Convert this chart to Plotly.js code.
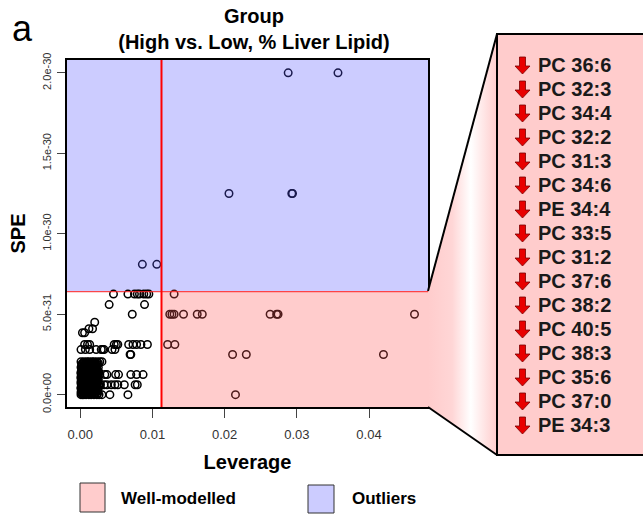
<!DOCTYPE html>
<html><head><meta charset="utf-8">
<script src="https://cdn.plot.ly/plotly-3.0.1.min.js"></script>
<style>html,body{margin:0;padding:0;background:#fff;} #chart{width:643px;height:517px;}</style>
</head><body><div id="chart"></div>
<script>
// ---- data (SPE in units of 1e-31) ----
const leverage = [
  0.0288, 0.0357,
  0.0206, 0.0293, 0.0294,
  0.0086, 0.0106,
  0.0046, 0.0066, 0.0075, 0.0079, 0.0082, 0.0088, 0.0092, 0.0095, 0.0130,
  0.0040, 0.0089,
  0.0072, 0.0124, 0.0127, 0.0130, 0.0143, 0.0162, 0.0169, 0.0263, 0.0272, 0.0274, 0.0463,
  0.0020,
  0.0012, 0.0017,
  0.0003, 0.0006,
  0.0006, 0.0010, 0.0013, 0.0047, 0.0050, 0.0052, 0.0067, 0.0073, 0.0078, 0.0084, 0.0093, 0.0121, 0.0131,
  0.0001, 0.0007, 0.0013, 0.0022, 0.0029, 0.0031, 0.0033, 0.0044, 0.0048,
  0.0069, 0.0070, 0.0211, 0.0230, 0.0420,
  0.0001, 0.0005, 0.0009, 0.0012, 0.0016, 0.0019, 0.0023, 0.0027, 0.0030,
  0.0002, 0.0006, 0.0010, 0.0015, 0.0019, 0.0024,
  0.0001, 0.0004, 0.0008, 0.0013, 0.0017, 0.0021, 0.0025,
  0.0002, 0.0005, 0.0009, 0.0012, 0.0016, 0.0020, 0.0023,
  0.0001, 0.0003, 0.0007, 0.0011, 0.0014, 0.0018, 0.0022, 0.0026,
  0.0002, 0.0004, 0.0006, 0.0009, 0.0013, 0.0017, 0.0021, 0.0024, 0.0027, 0.0034, 0.0037, 0.0049, 0.0053, 0.0070, 0.0078, 0.0087,
  0.0001, 0.0005, 0.0008, 0.0012, 0.0015, 0.0019, 0.0023,
  0.0002, 0.0004, 0.0007, 0.0010, 0.0014, 0.0018, 0.0022, 0.0025,
  0.0001, 0.0003, 0.0006, 0.0009, 0.0013, 0.0016, 0.0020, 0.0024,
  0.0002, 0.0005, 0.0008, 0.0011, 0.0015, 0.0019, 0.0022, 0.0026, 0.0028, 0.0033, 0.0037, 0.0043, 0.0048, 0.0052, 0.0061, 0.0076, 0.0079,
  0.0001, 0.0004, 0.0007, 0.0010, 0.0013, 0.0017, 0.0021,
  0.0002, 0.0003, 0.0006, 0.0009, 0.0012, 0.0016, 0.0020, 0.0024,
  0.0001, 0.0004, 0.0008, 0.0011, 0.0014, 0.0018, 0.0022,
  0.0001, 0.0003, 0.0005, 0.0008, 0.0012, 0.0015, 0.0019, 0.0023, 0.0026, 0.0030, 0.0041, 0.0066, 0.0215,
  0.0003, 0.0007, 0.0012, 0.0017, 0.0021, 0.0025,
  0.0002, 0.0006, 0.0011, 0.0015, 0.0019, 0.0023,
  0.0003, 0.0007, 0.0011, 0.0014, 0.0018, 0.0022,
  0.0002, 0.0005, 0.0009, 0.0013, 0.0016, 0.0020, 0.0024,
  0.0001, 0.0005, 0.0008, 0.0011, 0.0015, 0.0019, 0.0023,
  0.0003, 0.0006, 0.0010, 0.0013, 0.0017, 0.0021, 0.0025,
  0.0001, 0.0005, 0.0009, 0.0012, 0.0016, 0.0020, 0.0024,
  0.0002, 0.0005, 0.0008, 0.0011, 0.0015, 0.0018, 0.0022,
  0.0001, 0.0004, 0.0007, 0.0010, 0.0013, 0.0017, 0.0021, 0.0024,
  0.0003, 0.0006, 0.0009, 0.0012, 0.0016, 0.0019, 0.0023,
  0.0001, 0.0005, 0.0008, 0.0011, 0.0014, 0.0018, 0.0022, 0.0025,
  0.0003, 0.0006, 0.0010, 0.0013, 0.0016, 0.0020, 0.0024,
  0.0002, 0.0006, 0.0009, 0.0013, 0.0017, 0.0021, 0.0024
];
const spe = [
  20, 20,
  12.5, 12.5, 12.5,
  8.1, 8.1,
  6.25, 6.25, 6.25, 6.25, 6.25, 6.25, 6.25, 6.25, 6.25,
  5.6, 5.6,
  5.0, 5.0, 5.0, 5.0, 5.0, 5.0, 5.0, 5.0, 5.0, 5.0, 5.0,
  4.5,
  4.1, 4.1,
  3.85, 3.85,
  3.12, 3.12, 3.12, 3.12, 3.12, 3.12, 3.12, 3.12, 3.12, 3.12, 3.12, 3.12, 3.12,
  2.8, 2.8, 2.8, 2.8, 2.8, 2.8, 2.8, 2.8, 2.8,
  2.5, 2.5, 2.5, 2.5, 2.5,
  2.05, 2.05, 2.05, 2.05, 2.05, 2.05, 2.05, 2.05, 2.05,
  1.875, 1.875, 1.875, 1.875, 1.875, 1.875,
  1.7, 1.7, 1.7, 1.7, 1.7, 1.7, 1.7,
  1.55, 1.55, 1.55, 1.55, 1.55, 1.55, 1.55,
  1.4, 1.4, 1.4, 1.4, 1.4, 1.4, 1.4, 1.4,
  1.25, 1.25, 1.25, 1.25, 1.25, 1.25, 1.25, 1.25, 1.25, 1.25, 1.25, 1.25, 1.25, 1.25, 1.25, 1.25,
  1.1, 1.1, 1.1, 1.1, 1.1, 1.1, 1.1,
  0.95, 0.95, 0.95, 0.95, 0.95, 0.95, 0.95, 0.95,
  0.8, 0.8, 0.8, 0.8, 0.8, 0.8, 0.8, 0.8,
  0.62, 0.62, 0.62, 0.62, 0.62, 0.62, 0.62, 0.62, 0.62, 0.62, 0.62, 0.62, 0.62, 0.62, 0.62, 0.62, 0.62,
  0.45, 0.45, 0.45, 0.45, 0.45, 0.45, 0.45,
  0.3, 0.3, 0.3, 0.3, 0.3, 0.3, 0.3, 0.3,
  0.15, 0.15, 0.15, 0.15, 0.15, 0.15, 0.15,
  0, 0, 0, 0, 0, 0, 0, 0, 0, 0, 0, 0, 0,
  1.95, 1.95, 1.95, 1.95, 1.95, 1.95,
  1.8, 1.8, 1.8, 1.8, 1.8, 1.8,
  1.62, 1.62, 1.62, 1.62, 1.62, 1.62,
  1.48, 1.48, 1.48, 1.48, 1.48, 1.48, 1.48,
  1.32, 1.32, 1.32, 1.32, 1.32, 1.32, 1.32,
  1.18, 1.18, 1.18, 1.18, 1.18, 1.18, 1.18,
  1.02, 1.02, 1.02, 1.02, 1.02, 1.02, 1.02,
  0.88, 0.88, 0.88, 0.88, 0.88, 0.88, 0.88,
  0.7, 0.7, 0.7, 0.7, 0.7, 0.7, 0.7, 0.7,
  0.53, 0.53, 0.53, 0.53, 0.53, 0.53, 0.53,
  0.38, 0.38, 0.38, 0.38, 0.38, 0.38, 0.38, 0.38,
  0.22, 0.22, 0.22, 0.22, 0.22, 0.22, 0.22,
  0.07, 0.07, 0.07, 0.07, 0.07, 0.07, 0.07
];
const leverageLimit = 0.01125;
const speLimit = 6.41;
const xTickVals = [0, 0.01, 0.02, 0.03, 0.04];
const xTickText = ["0.00", "0.01", "0.02", "0.03", "0.04"];
const yTickVals = [0, 5, 10, 15, 20];
const yTickText = ["0.0e+00", "5.0e-31", "1.0e-30", "1.5e-30", "2.0e-30"];
const lipids = ["PC 36:6", "PC 32:3", "PC 34:4", "PC 32:2", "PC 31:3", "PC 34:6", "PE 34:4", "PC 33:5",
                "PC 31:2", "PC 37:6", "PC 38:2", "PC 40:5", "PC 38:3", "PC 35:6", "PC 37:0", "PE 34:3"];
const legendLabels = ["Well-modelled", "Outliers"];
const chartTitle = "Group<br>(High vs. Low, % Liver Lipid)";

// ---- geometry helpers (pixel -> paper) ----
const L = 67, R = 428, T = 60, B = 407;
function px(x) { return (x - L) / (R - L); }
function py(y) { return (B - y) / (B - T); }
const FONT = "Liberation Sans, Arial, sans-serif";
const PINK = "#ffcccc", BLUE = "#ccccff";

const shapes = [
  {type: "rect", xref: "x", yref: "y", x0: -0.01, x1: 0.1, y0: speLimit, y1: 30,
   fillcolor: BLUE, line: {width: 0}, layer: "between"},
  {type: "rect", xref: "x", yref: "y", x0: leverageLimit, x1: 0.1, y0: -5, y1: speLimit,
   fillcolor: PINK, line: {width: 0}, layer: "between"},
  {type: "line", xref: "x", yref: "y", x0: -0.01, x1: 0.1, y0: speLimit, y1: speLimit,
   line: {color: "rgba(255,30,30,0.8)", width: 1.3}, layer: "above"},
  {type: "line", xref: "x", yref: "y", x0: leverageLimit, x1: leverageLimit, y0: -5, y1: 30,
   line: {color: "#ff0000", width: 2}, layer: "above"},
  // zoom connector
  {type: "line", xref: "paper", yref: "paper", x0: px(428), y0: py(291), x1: px(497), y1: py(34),
   line: {color: "#000", width: 2}},
  {type: "line", xref: "paper", yref: "paper", x0: px(428), y0: py(407), x1: px(497), y1: py(455),
   line: {color: "#000", width: 2}},
  // side panel
  {type: "rect", xref: "paper", yref: "paper", x0: px(497), x1: px(646), y0: py(455), y1: py(34),
   fillcolor: PINK, line: {color: "#000", width: 2}},
  // legend keys
  {type: "rect", xref: "paper", yref: "paper", x0: px(80), x1: px(105), y0: py(512), y1: py(483),
   fillcolor: PINK, line: {color: "#333", width: 1}},
  {type: "rect", xref: "paper", yref: "paper", x0: px(308), x1: px(334), y0: py(513), y1: py(485),
   fillcolor: BLUE, line: {color: "#333", width: 1}}
];

const annotations = [
  {text: "a", xref: "paper", yref: "paper", x: px(22), y: py(29), xanchor: "center", yanchor: "middle",
   showarrow: false, font: {family: FONT, size: 36, color: "#000"}},
  {text: "<b>" + legendLabels[0] + "</b>", xref: "paper", yref: "paper", x: px(119), y: py(498),
   xanchor: "left", yanchor: "middle", showarrow: false, font: {family: FONT, size: 17, color: "#000"}},
  {text: "<b>" + legendLabels[1] + "</b>", xref: "paper", yref: "paper", x: px(350), y: py(498),
   xanchor: "left", yanchor: "middle", showarrow: false, font: {family: FONT, size: 17, color: "#000"}}
];

lipids.forEach(function (name, i) {
  const yc = 65 + 24 * i;
  annotations.push({text: "<b>" + name + "</b>", xref: "paper", yref: "paper", x: px(536), y: py(yc),
    xanchor: "left", yanchor: "middle", showarrow: false, font: {family: FONT, size: 20, color: "#1a1a1a"}});
  const p = [[519.5, yc - 8], [525.5, yc - 8], [525.5, yc + 1], [530, yc + 1], [522.5, yc + 9], [515, yc + 1], [519.5, yc + 1]];
  const path = "M" + p.map(function (q) { return px(q[0]) + "," + py(q[1]); }).join(" L") + " Z";
  shapes.push({type: "path", xref: "paper", yref: "paper", path: path,
    fillcolor: "#e80000", line: {color: "#7a0000", width: 0.8}});
});

const svg = "<svg xmlns='http://www.w3.org/2000/svg' width='69' height='421' viewBox='0 0 69 421' preserveAspectRatio='none'>" +
  "<defs><linearGradient id='g' x1='0' y1='0' x2='1' y2='0'>" +
  "<stop offset='0' stop-color='#ffcccc'/><stop offset='0.35' stop-color='#ffd6d6'/><stop offset='0.62' stop-color='#ffffff'/><stop offset='1' stop-color='#ffcccc'/>" +
  "</linearGradient></defs><polygon points='0,257 69,0 69,421 0,373' fill='url(#g)'/></svg>";

const images = [{
  source: "data:image/svg+xml;charset=utf-8," + encodeURIComponent(svg),
  xref: "paper", yref: "paper", x: px(428), y: py(34), sizex: px(497) - px(428), sizey: py(34) - py(455),
  xanchor: "left", yanchor: "top", sizing: "stretch", layer: "above"
}];

// circles take the tint of the shaded region they sit in
const pointColors = leverage.map(function (lv, i) {
  if (spe[i] > speLimit) return "#1a1a4d";
  if (lv > leverageLimit) return "#4d1a1a";
  return "#000";
});

const trace = {
  x: leverage, y: spe, type: "scatter", mode: "markers",
  marker: {symbol: "circle-open", size: 7.5, color: pointColors, line: {width: 1.5, color: pointColors}},
  hoverinfo: "x+y", showlegend: false
};

const layout = {
  width: 643, height: 517,
  margin: {l: L, r: 643 - R, t: T, b: 517 - B, pad: 0},
  paper_bgcolor: "#fff", plot_bgcolor: "#fff",
  showlegend: false,
  title: {text: "<b>" + chartTitle + "</b>", xref: "container", yref: "container",
          x: 254 / 643, xanchor: "center", y: 1 - 23 / 517, yanchor: "top",
          font: {family: FONT, size: 20, color: "#000"}},
  xaxis: {range: [-0.00184, 0.04817], tickvals: xTickVals, ticktext: xTickText,
          showgrid: false, zeroline: false, showline: true, mirror: true, linewidth: 2, linecolor: "#000",
          ticks: "outside", ticklen: 9, tickwidth: 1, tickcolor: "#444", ticklabelstandoff: 5,
          tickfont: {family: FONT, size: 13, color: "#333"},
          title: {text: "<b>Leverage</b>", font: {family: FONT, size: 20, color: "#000"}, standoff: 14}},
  yaxis: {range: [-0.766, 20.8], tickvals: yTickVals, ticktext: yTickText, tickangle: -90,
          showgrid: false, zeroline: false, showline: true, mirror: true, linewidth: 2, linecolor: "#000",
          ticks: "outside", ticklen: 8, tickwidth: 1, tickcolor: "#444", ticklabelstandoff: 2,
          tickfont: {family: FONT, size: 11, color: "#333"},
          title: {text: "<b>SPE</b>", font: {family: FONT, size: 20, color: "#000"}, standoff: 10}},
  shapes: shapes, annotations: annotations, images: images
};

Plotly.newPlot("chart", [trace], layout, {displayModeBar: false, staticPlot: true});
</script>
</body></html>
